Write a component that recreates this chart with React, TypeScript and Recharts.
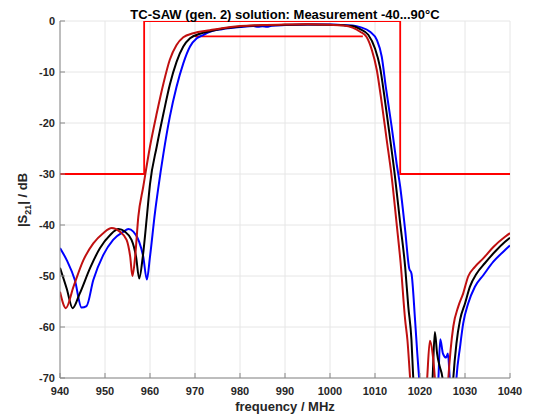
import React from 'react';
import { LineChart, Line, XAxis, YAxis, CartesianGrid } from 'recharts';

// axis ticks
const freqTicks = [940, 950, 960, 970, 980, 990, 1000, 1010, 1020, 1030, 1040];
const dbTicks = [-70, -60, -50, -40, -30, -20, -10, 0];

// spec mask (red)
const maskFreq = [940, 958.7, 958.7, 1015.6, 1015.6, 1040];
const maskDb = [-30, -30, 0, 0, -30, -30];
const maskInnerFreq = [970, 1007.3];
const maskInnerDb = [-3, -3];

// dark red curve (leftmost)
const redFreq = [940, 941.3, 943.0, 945.2, 947.4, 949.6, 951.5, 953.3, 954.8, 955.6, 956.1, 956.7, 957.4, 958.5, 960.0, 961.5, 963.0, 964.4, 965.9, 967.4, 969.6, 973.3, 976, 980, 985, 990, 995, 1000, 1003, 1005, 1006.7, 1008.1, 1009.3, 1010.4, 1011.5, 1012.6, 1013.7, 1014.8, 1015.7, 1016.7, 1017.2, 1017.8, 1018.3, 1021.2, 1021.6, 1022.2, 1022.8, 1023.3, 1023.7, 1025.9, 1026.3, 1026.8, 1027.4, 1028.5, 1029.6, 1030.7, 1032.2, 1034.1, 1036.3, 1038.9, 1040];
const redDb = [-53.1, -56.3, -52.1, -46.9, -43.6, -41.6, -40.6, -41.3, -42.9, -46.2, -50.0, -46.2, -38.4, -32.5, -24.6, -18.1, -12.2, -7.6, -4.7, -3.2, -2.4, -1.8, -1.4, -1.0, -0.8, -0.7, -0.65, -0.75, -0.9, -1.3, -2.1, -3.1, -5.7, -9.6, -16.1, -23.3, -30.5, -39.7, -47.5, -58.6, -62.5, -70, -76, -76, -70, -62.7, -65.2, -70, -76, -76, -70, -64.5, -59.9, -56.0, -53.4, -50.1, -48.2, -46.5, -44.3, -42.3, -41.6];

// black curve (middle)
const blackFreq = [940, 941.5, 942.8, 944.4, 946.7, 948.9, 951.1, 953.0, 954.4, 955.9, 956.9, 957.6, 958.4, 959.3, 960.0, 961.5, 963.0, 964.4, 965.9, 967.4, 968.9, 971.1, 973.3, 976, 980, 985, 990, 995, 1000, 1003, 1005, 1006.7, 1008.5, 1010.0, 1011.1, 1012.2, 1013.3, 1014.4, 1015.6, 1016.7, 1017.4, 1018.1, 1018.5, 1019.0, 1022.4, 1022.8, 1023.3, 1023.8, 1024.4, 1025.0, 1025.4, 1027.0, 1027.4, 1028.1, 1028.9, 1030.0, 1031.1, 1032.6, 1034.4, 1036.7, 1038.9, 1040];
const blackDb = [-48.4, -52.5, -56.3, -53.4, -48.4, -44.5, -42.0, -40.8, -41.3, -42.9, -46.2, -50.5, -46.2, -38.4, -32.0, -24.6, -18.1, -12.5, -8.0, -5.0, -3.4, -2.5, -2.0, -1.5, -1.1, -0.85, -0.75, -0.7, -0.75, -0.85, -1.0, -1.6, -2.7, -5.4, -9.0, -15.5, -22.7, -30.2, -39.7, -48.2, -56.0, -62.5, -70, -76, -76, -70, -61.0, -65.2, -67.8, -70, -76, -76, -70, -63.2, -58.6, -55.4, -52.1, -49.5, -47.5, -45.2, -43.3, -42.5];

// blue curve (rightmost)
const blueFreq = [940, 941.5, 943.3, 944.8, 945.9, 947.4, 949.6, 951.8, 954.1, 955.2, 956.3, 957.6, 958.5, 959.3, 960.0, 961.1, 961.8, 963.0, 964.4, 965.9, 967.4, 968.9, 970.4, 971.9, 973.3, 976, 980, 983, 984, 985, 986, 987, 990, 995, 1000, 1003, 1005, 1006.7, 1008.9, 1010.4, 1011.5, 1012.4, 1013.7, 1014.8, 1015.6, 1016.7, 1017.6, 1018.1, 1018.9, 1019.4, 1019.8, 1020.3, 1023.8, 1024.1, 1024.5, 1025.1, 1025.8, 1026.2, 1026.6, 1027.0, 1027.7, 1028.1, 1028.9, 1029.6, 1030.7, 1032.2, 1034.1, 1036.3, 1038.9, 1040];
const blueDb = [-44.5, -46.9, -50.8, -56.2, -55.9, -50.8, -45.9, -42.9, -41.3, -40.8, -41.3, -43.3, -46.2, -50.7, -46.2, -37.6, -33.0, -25.9, -18.8, -12.9, -8.3, -5.0, -3.4, -2.7, -2.1, -1.6, -1.2, -1.0, -1.15, -1.05, -1.15, -0.95, -0.8, -0.7, -0.7, -0.8, -0.9, -1.2, -2.1, -3.7, -7.0, -12.9, -20.7, -27.9, -32.5, -41.0, -48.5, -49.5, -58.6, -65.2, -70, -76, -76, -70, -62.4, -65.2, -66.0, -65.2, -70, -76, -76, -70, -63.9, -59.3, -55.4, -52.1, -49.8, -47.2, -44.9, -44.0];

const toPoints = (f: number[], d: number[]) => f.map((x, i) => ({ f: x, db: d[i] }));

const font = '"Liberation Sans", Arial, sans-serif';
const tickStyle = { fill: '#262626', fontSize: 11, fontWeight: 700, fontFamily: font };

export default function App() {
  return (
    <div style={{ position: 'absolute', left: 0, top: 0, width: 533, height: 417, background: '#fff' }}>
      <LineChart width={533} height={417} margin={{ top: 21, right: 23, bottom: 0, left: 0 }}>
        <CartesianGrid stroke="#e6e6e6" strokeWidth={1} />
        <XAxis
          type="number"
          dataKey="f"
          domain={[940, 1040]}
          ticks={freqTicks}
          height={39}
          allowDataOverflow
          stroke="#888"
          tickSize={-5}
          tickMargin={14}
          tick={tickStyle}
        />
        <YAxis
          type="number"
          dataKey="db"
          domain={[-70, 0]}
          ticks={dbTicks}
          width={60}
          allowDataOverflow
          stroke="#888"
          tickSize={-5}
          tickMargin={10}
          tick={tickStyle}
        />
        <Line data={toPoints(maskFreq, maskDb)} dataKey="db" type="linear" stroke="#ff0000" strokeWidth={1.8} dot={false} isAnimationActive={false} />
        <Line data={toPoints(maskInnerFreq, maskInnerDb)} dataKey="db" type="linear" stroke="#ff0000" strokeWidth={1.8} dot={false} isAnimationActive={false} />
        <Line data={toPoints(blueFreq, blueDb)} dataKey="db" type="monotone" stroke="#0000ff" strokeWidth={2} dot={false} isAnimationActive={false} />
        <Line data={toPoints(blackFreq, blackDb)} dataKey="db" type="monotone" stroke="#000000" strokeWidth={2} dot={false} isAnimationActive={false} />
        <Line data={toPoints(redFreq, redDb)} dataKey="db" type="monotone" stroke="#c01010" strokeWidth={2} dot={false} isAnimationActive={false} />
      </LineChart>
      <svg width={533} height={417} style={{ position: 'absolute', left: 0, top: 0, pointerEvents: 'none' }}>
        <text x={285} y={19} textAnchor="middle" fontFamily={font} fontWeight={700} fontSize={13} fill="#000">
          TC-SAW (gen. 2) solution: Measurement -40...90°C
        </text>
        <text x={285} y={411} textAnchor="middle" fontFamily={font} fontWeight={700} fontSize={13} fill="#262626">
          frequency / MHz
        </text>
        <text x={27} y={200} transform="rotate(-90 27 200)" textAnchor="middle" fontFamily={font} fontWeight={700} fontSize={13} fill="#262626">
          |S<tspan fontSize={9} dy={4}>21</tspan><tspan dy={-4}>| / dB</tspan>
        </text>
      </svg>
    </div>
  );
}
